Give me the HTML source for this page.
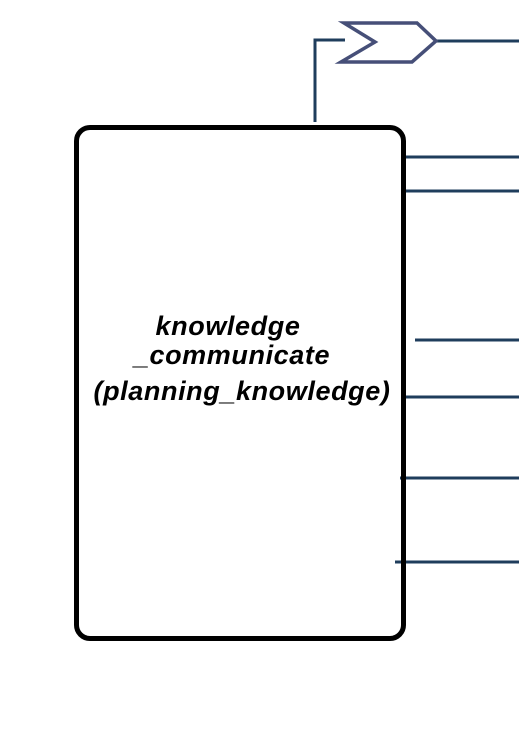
<!DOCTYPE html>
<html><head><style>
body{margin:0;width:519px;height:732px;background:#fff;overflow:hidden;position:relative}
.box{position:absolute;left:74px;top:125px;width:322px;height:506px;border:5px solid #000;border-radius:16px}
.t{position:absolute;left:74px;width:332px;text-align:center;font:italic bold 27px "Liberation Sans",sans-serif;color:#000;letter-spacing:0.6px;white-space:nowrap}
</style></head><body>
<svg width="519" height="732" style="position:absolute;left:0;top:0">
<g stroke="#1f3d5c" stroke-width="3" fill="none">
<polyline points="315,122 315,40 345,40"/>
<line x1="437" y1="41" x2="519" y2="41"/>
<line x1="403" y1="157" x2="519" y2="157"/>
<line x1="403" y1="191" x2="519" y2="191"/>
<line x1="415" y1="340" x2="519" y2="340"/>
<line x1="403" y1="397" x2="519" y2="397"/>
<line x1="400" y1="478" x2="519" y2="478"/>
<line x1="395" y1="562" x2="519" y2="562"/>
</g>
<polygon points="344,23 417,23 436,41 412,62 341,62 375,42" fill="#fff" stroke="#464f78" stroke-width="3.5"/>
</svg>
<div class="box"></div>
<div class="t" style="top:311px;left:62px">knowledge</div>
<div class="t" style="top:340px;left:66px">_communicate</div>
<div class="t" style="top:376px;left:76px">(planning_knowledge)</div>
</body></html>
